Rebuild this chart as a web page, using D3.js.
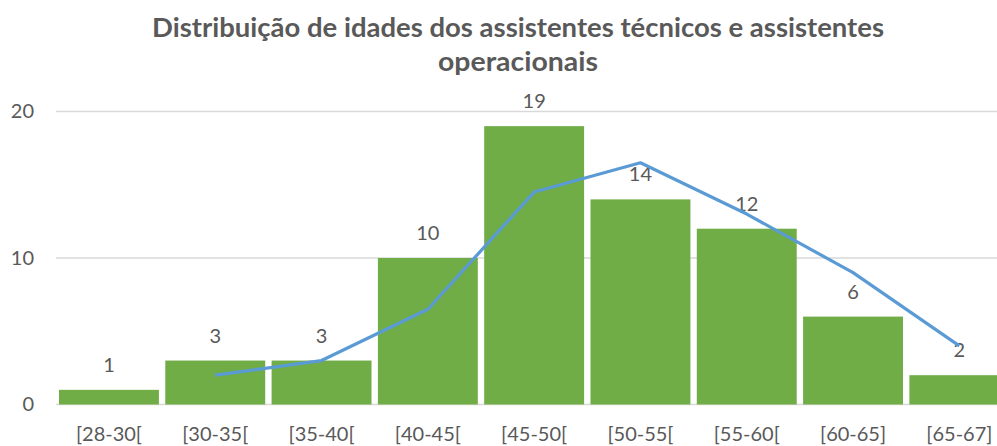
<!DOCTYPE html>
<html><head><meta charset="utf-8">
<script src="https://cdn.jsdelivr.net/npm/d3@7"></script>
<style>body{margin:0;background:#fff;} svg{display:block;}</style>
</head><body>
<script>
const categories = ["[28-30[","[30-35[","[35-40[","[40-45[","[45-50[","[50-55[","[55-60[","[60-65]","[65-67]"];
const counts = [1,3,3,10,19,14,12,6,2];
const trendValues = [null,2,3,6.5,14.5,16.5,13,9,4];
const yTicks = [0,10,20];
const titleLines = ["Distribuição de idades dos assistentes técnicos e assistentes","operacionais"];

const W = 997, H = 446;
const font = "Lato, 'Open Sans', sans-serif";
const textColor = "#595959";
const svg = d3.select("body").append("svg").attr("width", W).attr("height", H);

const x = d3.scaleBand().domain(categories).range([55.8, 55.8 + 9*106.3]).paddingInner(0.06).paddingOuter(0.03);
const y = d3.scaleLinear().domain([0,20]).range([404.5,111.5]);

// gridlines
svg.append("g").selectAll("line").data(yTicks).join("line")
  .attr("x1", 56).attr("x2", W).attr("y1", d=>y(d)).attr("y2", d=>y(d))
  .attr("stroke", "#D9D9D9").attr("stroke-width", 1.3);

// y axis labels
const yAxis = d3.axisLeft(y).tickValues(yTicks).tickSize(0).tickPadding(0);
const ya = svg.append("g").attr("transform","translate(34,0)").call(yAxis);
ya.select(".domain").remove();
ya.selectAll("text").attr("font-family", font).attr("font-size", 20).attr("fill", textColor);

// bars
svg.append("g").selectAll("rect").data(counts).join("rect")
  .attr("x", (d,i)=>x(categories[i])).attr("width", x.bandwidth())
  .attr("y", d=>y(d)).attr("height", d=>y(0)-y(d))
  .attr("fill", "#70AD47");

// value labels
svg.append("g").selectAll("text").data(counts).join("text")
  .attr("x", (d,i)=>x(categories[i]) + x.bandwidth()/2)
  .attr("y", d=>y(d) - 18)
  .attr("text-anchor","middle").attr("font-family", font).attr("font-size", 20).attr("fill", textColor)
  .text(d=>d);

// x axis labels
const xAxis = d3.axisBottom(x).tickSize(0).tickPadding(0);
const xa = svg.append("g").attr("transform","translate(0,0)").call(xAxis);
xa.select(".domain").remove();
xa.selectAll("text").attr("y", 441).attr("dy", null).attr("font-family", font).attr("font-size", 20).attr("fill", textColor);

// trend line
const line = d3.line().defined(d=>d!=null)
  .x((d,i)=>x(categories[i]) + x.bandwidth()/2).y(d=>y(d));
svg.append("path").datum(trendValues).attr("d", line)
  .attr("fill","none").attr("stroke","#5B9BD5").attr("stroke-width",3.2).attr("stroke-linejoin","round");

// title
svg.append("g").selectAll("text").data(titleLines).join("text")
  .attr("x", 518).attr("y", (d,i)=>37 + i*34)
  .attr("text-anchor","middle").attr("font-family", font).attr("font-weight","bold")
  .attr("font-size", 26).attr("fill", textColor)
  .attr("textLength", (d,i)=> i===0 ? 732 : 160).attr("lengthAdjust","spacingAndGlyphs")
  .text(d=>d);
</script>
</body></html>
